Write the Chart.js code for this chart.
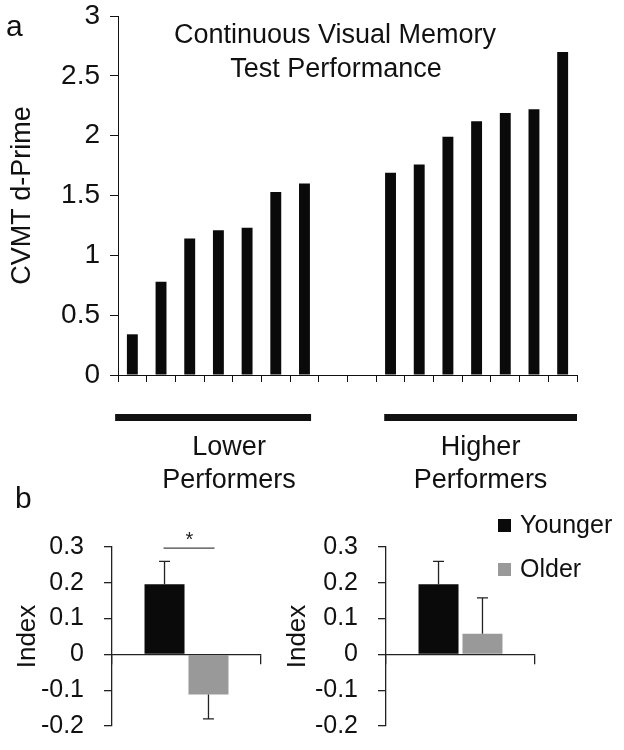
<!DOCTYPE html>
<html>
<head>
<meta charset="utf-8">
<script src="https://cdn.jsdelivr.net/npm/chart.js@4.4.0/dist/chart.umd.min.js"></script>
<style>
  body { margin: 0; background: #fff; }
  #wrap { position: relative; width: 624px; height: 750px; overflow: hidden; }
  canvas { position: absolute; }
  #topChart { left: 0; top: 0; }
  #lowChart { left: 0; top: 500px; }
  #highChart { left: 270px; top: 500px; }
  .panel { position: absolute; font: 30px "Liberation Sans", Arial, sans-serif; line-height: 30px; color: #111; }
</style>
</head>
<body>
<div id="wrap">
  <canvas id="topChart" width="624" height="500"></canvas>
  <canvas id="lowChart" width="270" height="250"></canvas>
  <canvas id="highChart" width="354" height="250"></canvas>
  <div class="panel" style="left:6px; top:11px;">a</div>
  <div class="panel" style="left:15px; top:483px;">b</div>
</div>
<script>
// panel a: one bar per participant, two empty slots between the groups
const participants = ['L1', 'L2', 'L3', 'L4', 'L5', 'L6', 'L7', '', ' ', 'H1', 'H2', 'H3', 'H4', 'H5', 'H6', 'H7'];
const cvmtScores = [0.34, 0.78, 1.14, 1.21, 1.23, 1.53, 1.60, null, null, 1.69, 1.76, 1.99, 2.12, 2.19, 2.22, 2.70];
const yTicksTop = [0, 0.5, 1, 1.5, 2, 2.5, 3];
const groupNames = [['Lower', 'Performers'], ['Higher', 'Performers']];
const groupRanges = [[0, 6], [9, 15]];

// panel b: memory index by age group
const ageGroups = ['Younger', 'Older'];
const lowerPerfIndex = [0.196, -0.112];
const lowerPerfErr = [0.064, 0.068];
const higherPerfIndex = [0.196, 0.058];
const higherPerfErr = [0.064, 0.10];
const ageColors = ['#0a0a0a', '#999999'];

Chart.defaults.font.family = '"Liberation Sans", Arial, Helvetica, sans-serif';
Chart.defaults.color = '#111';

const FONT = '"Liberation Sans", Arial, Helvetica, sans-serif';

// keep tick padding from pushing the plot area in
function noEndPadding(s) {
    s.paddingTop = 0;
    s.paddingBottom = 0;
}

// title + group bars under panel a
const topDecor = {
    id: 'topDecor',
    afterDraw(chart) {
        const ctx = chart.ctx;
        const x = chart.scales.x;
        const w = x.getPixelForValue(1) - x.getPixelForValue(0);
        ctx.save();
        ctx.fillStyle = '#111';
        ctx.textAlign = 'center';
        ctx.font = '27px ' + FONT;
        ctx.fillText('Continuous Visual Memory', 335, 43);
        ctx.fillText('Test Performance', 336, 77);

        const ext = [[-0.6, 0.23], [-0.22, 0.5]];  // overhang of each bar, in slots
        const shift = [16, 0];
        groupRanges.forEach((r, i) => {
            const x0 = x.getPixelForValue(r[0]) + ext[i][0] * w;
            const x1 = x.getPixelForValue(r[1]) + ext[i][1] * w;
            ctx.fillRect(x0, 414, x1 - x0, 7);
            const cx = (x0 + x1) / 2 + shift[i];
            ctx.fillText(groupNames[i][0], cx, 455);
            ctx.fillText(groupNames[i][1], cx, 488);
        });
        ctx.restore();
    }
};

new Chart(document.getElementById('topChart'), {
    type: 'bar',
    data: {
        labels: participants,
        datasets: [{
            data: cvmtScores,
            backgroundColor: '#0a0a0a',
            barPercentage: 0.38,
            categoryPercentage: 1.0
        }]
    },
    options: {
        responsive: false,
        animation: false,
        layout: { padding: { top: 16, right: 47, left: 0, bottom: 0 } },
        plugins: { legend: { display: false }, tooltip: { enabled: false } },
        scales: {
            x: {
                afterFit: s => { s.height = 125; },
                grid: { offset: true, drawOnChartArea: false, tickLength: 7, color: '#111' },
                border: { color: '#111', width: 1 },
                ticks: { display: false }
            },
            y: {
                min: 0, max: 3,
                afterFit: s => { s.width = 118; noEndPadding(s); },
                afterBuildTicks: s => { s.ticks = yTicksTop.map(v => ({ value: v })); },
                grid: { drawOnChartArea: false, tickLength: 8, color: '#111' },
                border: { color: '#111', width: 1 },
                ticks: { font: { size: 28 }, padding: 10, callback: v => String(v) },
                title: { display: true, text: 'CVMT d-Prime', font: { size: 27 }, padding: { top: 6, bottom: 0 } }
            }
        }
    },
    plugins: [topDecor]
});

// one-sided error bars, away from zero
const errorBars = {
    id: 'errorBars',
    afterDatasetsDraw(chart) {
        const ctx = chart.ctx;
        const y = chart.scales.y;
        ctx.save();
        ctx.strokeStyle = '#222';
        ctx.lineWidth = 1.3;
        chart.data.datasets.forEach((ds, di) => {
            chart.getDatasetMeta(di).data.forEach((bar, i) => {
                const v = ds.data[i];
                const end = v + Math.sign(v) * ds.errors[i];
                const y0 = y.getPixelForValue(v), y1 = y.getPixelForValue(end);
                ctx.beginPath();
                ctx.moveTo(bar.x, y0); ctx.lineTo(bar.x, y1);
                ctx.moveTo(bar.x - 5.5, y1); ctx.lineTo(bar.x + 5.5, y1);
                ctx.stroke();
            });
        });
        ctx.restore();
    }
};

const sigMark = {
    id: 'sigMark',
    afterDraw(chart, args, opts) {
        if (!opts.show) return;
        const ctx = chart.ctx;
        const a = chart.getDatasetMeta(0).data[0];
        const b = chart.getDatasetMeta(1).data[0];
        const yy = chart.scales.y.getPixelForValue(opts.level);
        ctx.save();
        ctx.strokeStyle = '#444';
        ctx.lineWidth = 1.3;
        ctx.beginPath();
        ctx.moveTo(a.x - 1, yy); ctx.lineTo(b.x + 6, yy);
        ctx.stroke();
        ctx.fillStyle = '#222';
        ctx.font = '20px ' + FONT;
        ctx.textAlign = 'center';
        ctx.fillText('*', (a.x + b.x) / 2 + 3, yy - 2);
        ctx.restore();
    }
};

const ageLegend = {
    id: 'ageLegend',
    afterDraw(chart, args, opts) {
        if (!opts.show) return;
        const ctx = chart.ctx;
        ctx.save();
        ctx.font = '25px ' + FONT;
        ctx.textBaseline = 'alphabetic';
        chart.data.datasets.forEach((ds, i) => {
            const base = opts.y + i * opts.gap;
            ctx.fillStyle = ds.backgroundColor;
            ctx.fillRect(opts.x, base - 14, 13, 13);
            ctx.fillStyle = '#111';
            ctx.fillText(ds.label, opts.x + 22, base);
        });
        ctx.restore();
    }
};

function indexChart(id, values, errs, yWidth, padRight, showSig, showLegend) {
    return new Chart(document.getElementById(id), {
        type: 'bar',
        data: {
            labels: [''],
            datasets: ageGroups.map((g, i) => ({
                label: g,
                data: [values[i]],
                errors: [errs[i]],
                backgroundColor: ageColors[i],
                barPercentage: 0.91,
                categoryPercentage: 0.59
            }))
        },
        options: {
            responsive: false,
            animation: false,
            layout: { padding: { top: 47, right: padRight, bottom: 24, left: 0 } },
            plugins: {
                legend: { display: false },
                tooltip: { enabled: false },
                sigMark: { show: showSig, level: 0.297 },
                ageLegend: { show: showLegend, x: 228, y: 33, gap: 44 }
            },
            scales: {
                x: {
                    position: { y: 0 },
                    grid: { offset: true, drawOnChartArea: false, tickLength: 9, color: '#222', lineWidth: 1.3 },
                    border: { color: '#222', width: 1.3 },
                    ticks: { display: false }
                },
                y: {
                    min: -0.2, max: 0.3,
                    afterFit: s => { s.width = yWidth; noEndPadding(s); },
                    grid: { drawOnChartArea: false, tickLength: 8, color: '#222', lineWidth: 1.3 },
                    border: { color: '#222', width: 1.3 },
                    ticks: {
                        stepSize: 0.05,
                        font: { size: 25 },
                        padding: 20,
                        callback: v => {
                            const r = Math.round(v * 100);
                            return r % 10 === 0 ? String(r / 100) : '';
                        }
                    },
                    title: { display: true, text: 'Index', font: { size: 26 }, padding: { top: 12, bottom: 0 } }
                }
            }
        },
        plugins: [errorBars, sigMark, ageLegend]
    });
}

indexChart('lowChart', lowerPerfIndex, lowerPerfErr, 112, 9, true, false);
indexChart('highChart', higherPerfIndex, higherPerfErr, 116, 89, false, true);
</script>
</body>
</html>
